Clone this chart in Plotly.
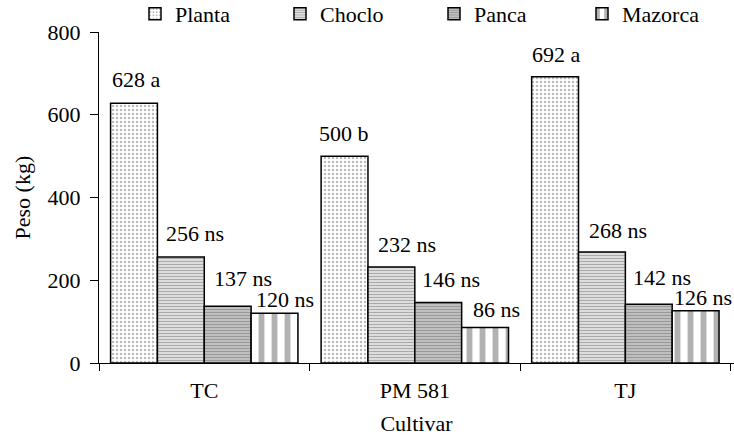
import plotly.graph_objects as go

cultivars = ["TC", "PM 581", "TJ"]
series_names = ["Planta", "Choclo", "Panca", "Mazorca"]
planta = [628, 500, 692]
choclo = [256, 232, 268]
panca = [137, 146, 142]
mazorca = [120, 86, 126]
planta_lbl = ["628 a", "500 b", "692 a"]
choclo_lbl = ["256 ns", "232 ns", "268 ns"]
panca_lbl = ["137 ns", "146 ns", "142 ns"]
mazorca_lbl = ["120 ns", "86 ns", "126 ns"]

values = [planta, choclo, panca, mazorca]
labels = [planta_lbl, choclo_lbl, panca_lbl, mazorca_lbl]

# style: label offsets in pixels (horizontal shift from bar centre, height above bar top)
label_dx = [[3, 0, 2], [14, 16, 16], [15, 13, 13], [10, 11, 7]]
label_dy = [[24, 23, 22], [24, 23, 22], [28, 23, 27], [14, 18, 13]]
patterns = [
    dict(shape=".", fgcolor="#777777", bgcolor="white", size=4, solidity=0.3),
    dict(shape="-", fgcolor="#555555", bgcolor="white", size=3, solidity=0.6),
    dict(shape="-", fgcolor="#333333", bgcolor="white", size=3, solidity=0.75),
    dict(shape="|", fgcolor="#666666", bgcolor="white", size=13, solidity=0.45),
]
# legend text start (px) for each series
legend_text_x = [177, 322, 476, 624]

W, H = 734, 440
ML, MR, MT, MB = 99, 0, 32, 77
FS = 22
BARGAP = 0.11
FONT = "Liberation Serif"
plot_w = W - ML - MR
plot_h = H - MT - MB
cat_w = plot_w / len(cultivars)
bar_w = cat_w * (1 - BARGAP) / len(series_names)

fig = go.Figure()
legend_ids = ["legend", "legend2", "legend3", "legend4"]
for i, (name, v, pat) in enumerate(zip(series_names, values, patterns)):
    fig.add_trace(go.Bar(
        x=cultivars, y=v, name=name,
        marker=dict(color="white", pattern=pat, line=dict(color="black", width=1.5)),
        legend=legend_ids[i],
    ))

annotations = []
for i, (v, lab) in enumerate(zip(values, labels)):
    for j, c in enumerate(cultivars):
        annotations.append(dict(
            x=c, y=v[j], xref="x", yref="y", text=lab[j], showarrow=False,
            xanchor="center", yanchor="middle",
            xshift=(i - 1.5) * bar_w + label_dx[i][j], yshift=label_dy[i][j],
            font=dict(family=FONT, size=FS, color="black"),
        ))
# y-axis title
annotations.append(dict(
    x=(22 - ML) / plot_w, y=0.5, xref="paper", yref="paper", text="Peso (kg)",
    textangle=-90, showarrow=False, xanchor="center", yanchor="middle",
    font=dict(family=FONT, size=FS, color="black"),
))

legends = {}
for i, lid in enumerate(legend_ids):
    legends[lid] = dict(
        orientation="h", x=(legend_text_x[i] - 42 - ML) / plot_w, xanchor="left",
        y=1 + (MT - 14) / plot_h, yanchor="middle",
        font=dict(family=FONT, size=FS, color="black"),
        itemwidth=30, bgcolor="rgba(0,0,0,0)", borderwidth=0,
    )

fig.update_layout(
    width=W, height=H,
    margin=dict(l=ML, r=MR, t=MT, b=MB, autoexpand=False),
    paper_bgcolor="white", plot_bgcolor="white",
    barmode="group", bargap=BARGAP, bargroupgap=0,
    font=dict(family=FONT, size=FS, color="black"),
    showlegend=True,
    annotations=annotations,
    **legends,
)
fig.update_yaxes(range=[0, 800], tickvals=[0, 200, 400, 600, 800],
                 showline=True, linecolor="black", linewidth=1, ticks="outside",
                 ticklen=8, tickcolor="black", showgrid=False, zeroline=False,
                 automargin=False, ticklabelstandoff=5,
                 tickfont=dict(family=FONT, size=FS))
fig.update_xaxes(showline=True, linecolor="black", linewidth=1, ticks="outside",
                 tickson="boundaries", ticklen=7, tickcolor="black", showgrid=False,
                 automargin=False, ticklabelstandoff=8,
                 tickfont=dict(family=FONT, size=FS),
                 title=dict(text="Cultivar", font=dict(family=FONT, size=FS), standoff=13))

fig.write_html("out.html")
